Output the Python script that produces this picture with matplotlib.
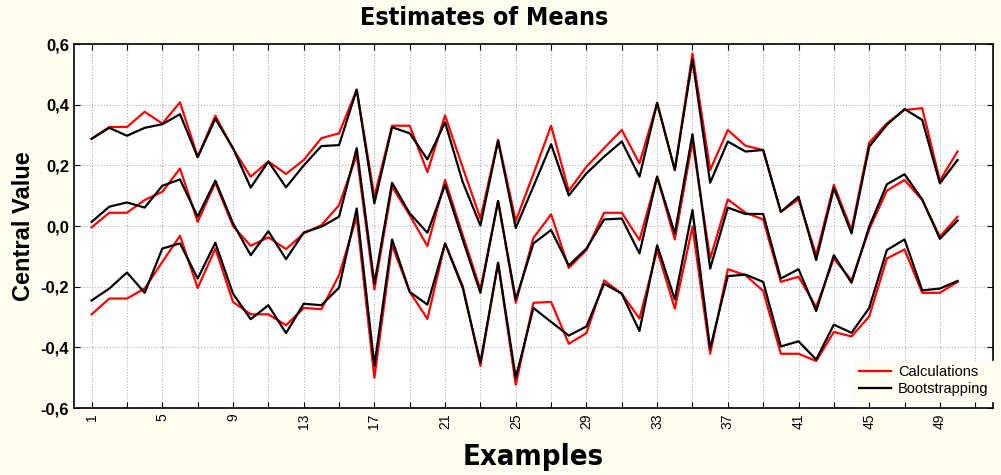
import matplotlib
matplotlib.use("Agg")
import matplotlib.pyplot as plt

examples = list(range(1, 51))

calc_upper = [0.288, 0.327, 0.327, 0.377, 0.338, 0.408, 0.229, 0.364, 0.255, 0.163,
              0.213, 0.172, 0.218, 0.290, 0.306, 0.450, 0.097, 0.331, 0.331, 0.178,
              0.365, 0.193, 0.025, 0.285, 0.017, 0.172, 0.331, 0.116, 0.196, 0.257,
              0.317, 0.207, 0.406, 0.185, 0.569, 0.185, 0.317, 0.265, 0.251, 0.047,
              0.088, -0.096, 0.136, -0.013, 0.275, 0.339, 0.383, 0.389, 0.150, 0.246]
boot_upper = [0.288, 0.324, 0.298, 0.324, 0.336, 0.369, 0.227, 0.354, 0.257, 0.127,
              0.213, 0.128, 0.200, 0.264, 0.267, 0.450, 0.075, 0.326, 0.306, 0.220,
              0.342, 0.145, 0.002, 0.281, -0.006, 0.131, 0.270, 0.101, 0.174, 0.229,
              0.279, 0.163, 0.406, 0.185, 0.549, 0.143, 0.279, 0.246, 0.251, 0.047,
              0.097, -0.112, 0.125, -0.024, 0.262, 0.334, 0.386, 0.350, 0.141, 0.218]
calc_mid = [-0.004, 0.044, 0.044, 0.086, 0.113, 0.190, 0.014, 0.143, 0.000, -0.065,
            -0.037, -0.076, -0.024, 0.003, 0.069, 0.235, -0.209, 0.130, 0.036, -0.066,
            0.152, -0.030, -0.209, 0.083, -0.253, -0.039, 0.039, -0.138, -0.079, 0.044,
            0.044, -0.046, 0.163, -0.044, 0.279, -0.107, 0.088, 0.044, 0.022, -0.184,
            -0.167, -0.267, -0.107, -0.179, -0.011, 0.117, 0.152, 0.086, -0.035, 0.031]
boot_mid = [0.014, 0.064, 0.078, 0.061, 0.133, 0.154, 0.031, 0.150, 0.009, -0.096,
            -0.017, -0.109, -0.021, -0.002, 0.031, 0.257, -0.190, 0.143, 0.042, -0.022,
            0.136, -0.045, -0.220, 0.083, -0.242, -0.057, -0.013, -0.130, -0.074, 0.022,
            0.025, -0.090, 0.163, -0.024, 0.303, -0.140, 0.061, 0.040, 0.040, -0.173,
            -0.142, -0.280, -0.096, -0.187, -0.002, 0.138, 0.171, 0.088, -0.042, 0.018]
calc_lower = [-0.291, -0.239, -0.239, -0.206, -0.118, -0.032, -0.204, -0.074, -0.250, -0.291,
              -0.291, -0.327, -0.270, -0.274, -0.162, 0.031, -0.500, -0.063, -0.217, -0.306,
              -0.057, -0.198, -0.461, -0.121, -0.523, -0.253, -0.250, -0.388, -0.353, -0.179,
              -0.223, -0.305, -0.079, -0.272, -0.002, -0.421, -0.142, -0.162, -0.214, -0.421,
              -0.421, -0.445, -0.349, -0.364, -0.298, -0.107, -0.077, -0.220, -0.220, -0.184]
boot_lower = [-0.245, -0.206, -0.153, -0.220, -0.074, -0.057, -0.173, -0.055, -0.223, -0.307,
              -0.261, -0.353, -0.256, -0.261, -0.203, 0.058, -0.460, -0.044, -0.217, -0.259,
              -0.057, -0.204, -0.450, -0.121, -0.500, -0.270, -0.316, -0.361, -0.331, -0.190,
              -0.223, -0.346, -0.063, -0.242, 0.053, -0.404, -0.165, -0.160, -0.184, -0.397,
              -0.380, -0.440, -0.325, -0.352, -0.270, -0.079, -0.044, -0.212, -0.206, -0.181]

x_ticks = list(range(1, 52, 2))
x_labels = [str(v) if (v - 1) % 4 == 0 else "" for v in x_ticks]
y_ticks = [-0.6, -0.4, -0.2, 0.0, 0.2, 0.4, 0.6]
y_labels = ["-0,6", "-0,4", "-0,2", "0,0", "0,2", "0,4", "0,6"]

bg = "#fffcf0"
sans = ["Liberation Sans", "DejaVu Sans"]
cond = ["DejaVu Sans"]

fig = plt.figure(figsize=(10.01, 4.75), dpi=100, facecolor=bg)
ax = fig.add_axes([0.0739, 0.141, 0.918, 0.766])
ax.set_facecolor("white")

for i, c in enumerate([calc_upper, calc_mid, calc_lower]):
    ax.plot(examples, c, color="#ff0000", lw=1.6, label="Calculations" if i == 0 else None)
for i, b in enumerate([boot_upper, boot_mid, boot_lower]):
    ax.plot(examples, b, color="black", lw=1.6, label="Bootstrapping" if i == 0 else None)

ax.set_xlim(0, 52)
ax.set_ylim(-0.6, 0.6)
ax.set_xticks(x_ticks)
ax.set_xticklabels(x_labels, rotation=90, fontsize=10, family=sans)
ax.set_yticks(y_ticks)
ax.set_yticklabels(y_labels, fontsize=12, fontweight="bold", family=sans)
ax.tick_params(direction="in", length=4, top=True, right=True, width=0.8)
ax.tick_params(axis="x", pad=4)
ax.grid(True, color="#b0b0b0", linestyle=":", linewidth=0.8)
for s in ax.spines.values():
    s.set_linewidth(1.2)

fig.text(0.484, 0.962, "Estimates of Means", ha="center", va="center",
         fontsize=18, fontweight="bold", family=cond, fontstretch="condensed")
ax.set_xlabel("Examples", fontsize=21, fontweight="bold", family=cond,
              fontstretch="condensed", labelpad=10)
ax.set_ylabel("Central Value", fontsize=17, fontweight="bold", family=sans, labelpad=4)

leg = ax.legend(loc="lower right", bbox_to_anchor=(1.0, 0.02), frameon=True, fancybox=False,
                prop={"family": sans, "size": 10.5}, handlelength=2.2, handletextpad=0.5,
                borderpad=0.3, labelspacing=0.2, borderaxespad=0.0)
leg.get_frame().set_facecolor(bg)
leg.get_frame().set_edgecolor(bg)
leg.get_frame().set_alpha(1.0)

fig.savefig("out.png", dpi=100, facecolor=bg)
